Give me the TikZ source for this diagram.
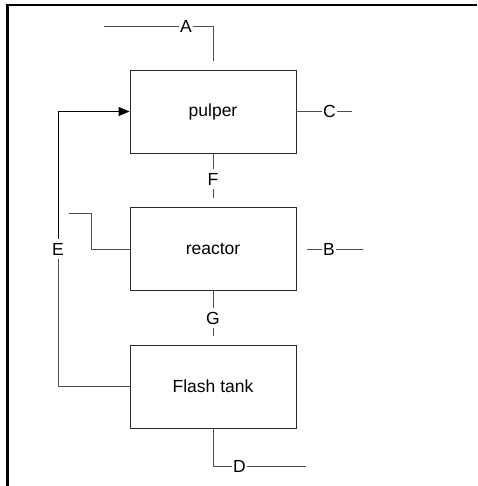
\documentclass[tikz,border=0pt]{standalone}
\usepackage{fontspec}
\setmainfont{Liberation Sans}
\usepackage{xcolor}
\usepackage{tikz}
\usetikzlibrary{arrows.meta,positioning,calc}
\definecolor{cInk}{HTML}{2A2A2A}
\definecolor{cLine}{HTML}{4E4E4E}
\tikzset{
  unit/.style={draw=cInk,line width=0.9pt,minimum width=166pt,minimum height=83pt,inner sep=0pt,font=\fontsize{17.5}{20}\selectfont,text=black},
  tag/.style={font=\fontsize{17.5}{20}\selectfont,inner xsep=1pt,inner ysep=4pt,text=black},
  pipe/.style={line width=0.9pt,color=cLine},
  feed/.style={-{Triangle[length=11pt,width=9pt]},line width=0.9pt,color=black},
}

\begin{document}
\begin{tikzpicture}[x=1pt,y=-1pt]
    \useasboundingbox (0,0) rectangle (477,486);
    \draw[line width=2.4pt] (7.5,486) -- (7.5,5) -- (477,5);
    % process units
    \node[unit] (pulper) at (213,111.5) {pulper};
    \node[unit] (reactor) at (213,249) {reactor};
    \node[unit] (flash) at (213,386.5) {Flash tank};
    % stream labels
    \node[tag] (A) at (186,26) {A};
    \node[tag] (C) at (329.5,111.5) {C};
    \node[tag] (F) at (213,179) {F};
    \node[tag] (E) at (58,249) {E};
    \node[tag] (B) at (329,249) {B};
    \node[tag] (G) at (213,318) {G};
    \node[tag] (D) at (239.5,466) {D};
    % free ends
    \coordinate (a0) at (104,26);
    \coordinate (a1) at (213,61);
    \coordinate (c1) at (352,111.5);
    \coordinate (f1) at (213,198);
    \coordinate (r0) at (69,213);
    \coordinate (r1) at (91,213);
    \coordinate (b0) at (307,249);
    \coordinate (b1) at (363,249);
    \coordinate (g1) at (213,336);
    \coordinate (d1) at (306,466);
    % streams
    \draw[pipe] (a0) -- (A) -| (a1);
    \draw[pipe] (pulper) -- (C) -- (c1);
    \draw[pipe] (pulper) -- (F);
    \draw[pipe] (F) -- (f1);
    \draw[pipe] (r0) -- (r1) |- (reactor.west);
    \draw[pipe] (b0) -- (B) -- (b1);
    \draw[pipe] (reactor) -- (G);
    \draw[pipe] (G) -- (g1);
    \draw[pipe] (flash.west) -| (E);
    \draw[feed] (E) |- (pulper.west);
    \draw[pipe] (flash.south) |- (D) -- (d1);
\end{tikzpicture}
\end{document}
